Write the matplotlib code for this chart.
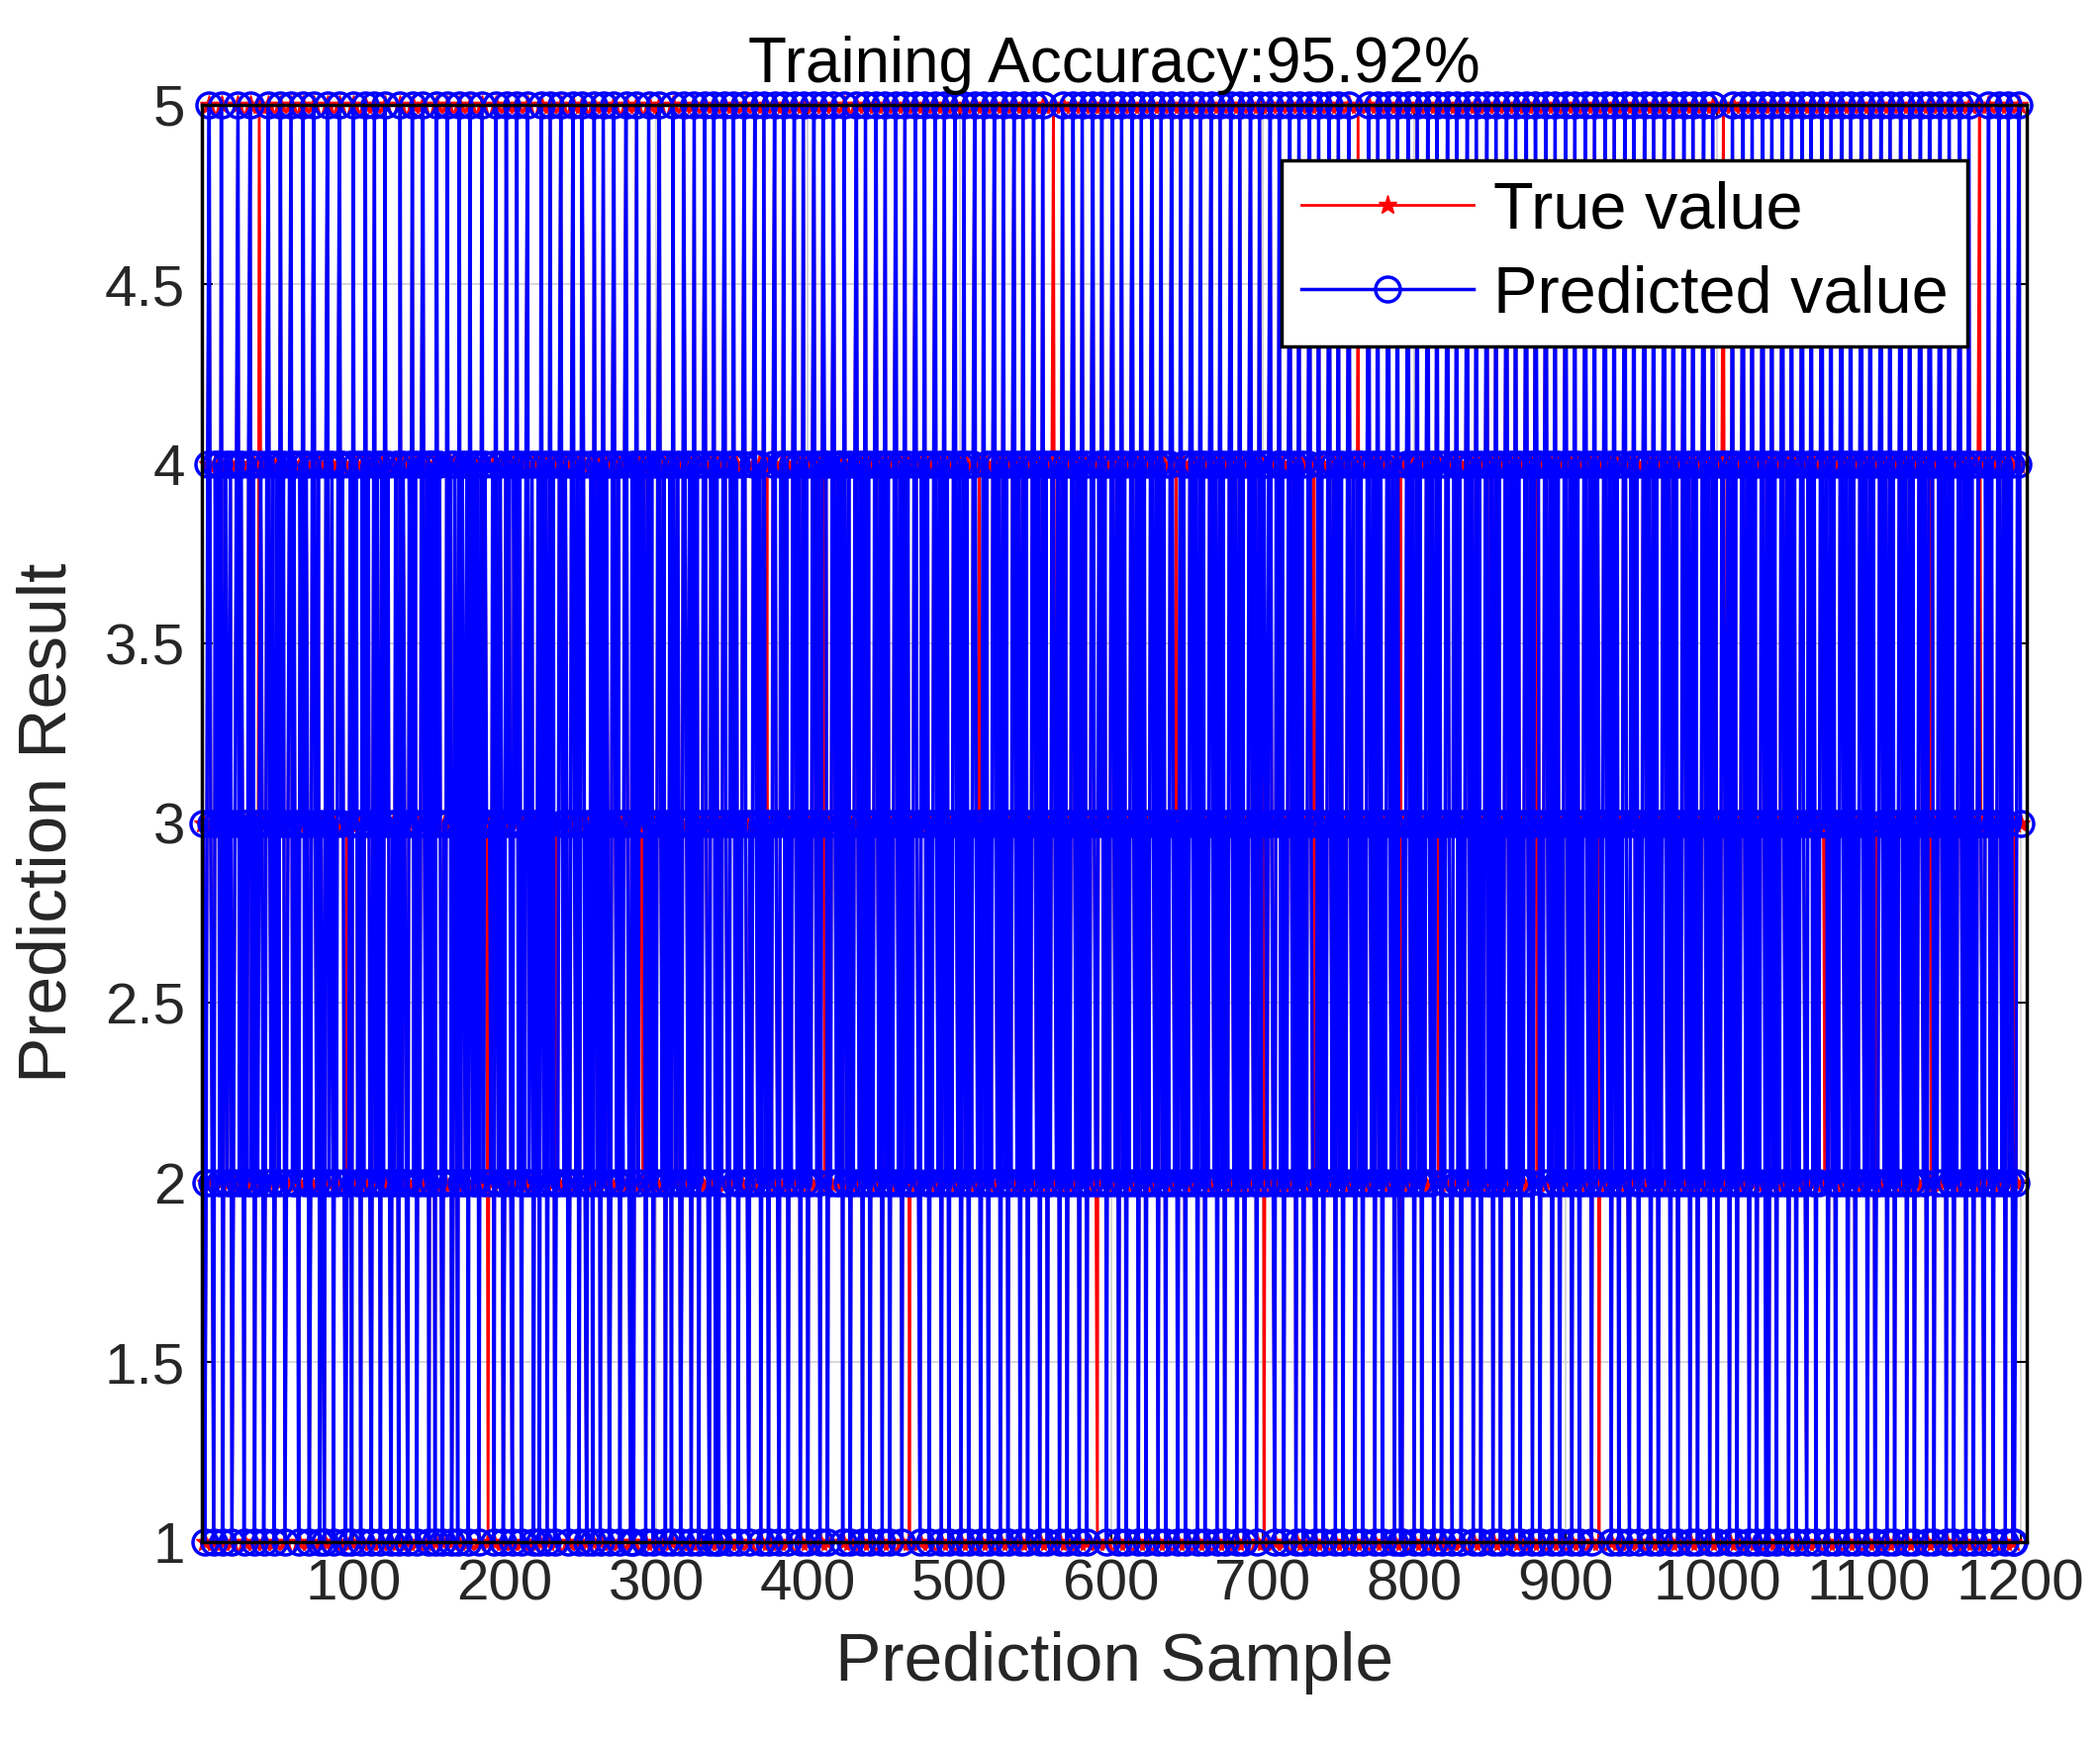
import numpy as np
import matplotlib
matplotlib.use("Agg")
import matplotlib.pyplot as plt

plt.rcParams['font.family'] = ['Liberation Sans', 'DejaVu Sans']

# True class labels per sample, one digit per sample
true_rows = [
    "312453214342513423412345243132452413254312453241342534123452",
    "423143524312453241321452341324534213241534231425342135243142",
    "534213243152432143524132453241324153421325341243152432415324",
    "241352431324153243125342143524132452341324153241352413245324",
    "312453241354213241532413524312453241324532141352432413524132",
    "453241324153243125432413524132453214352413245321435241324532",
    "132453241352413245321435241324532413524132453241352413245324",
    "241532413245324135241324532413524132453241352413245321435241",
    "324532413524132453241352413245324135241324532413524132453241",
    "352413245324135241324532413524132453241352413245321435241324",
    "532413524132453241352413245324135241324532413524132453241352",
    "413245324135241324532413524132453241352413245321435241324532",
    "413524132453241352413245324135241324532413524132453241352413",
    "245324135241324532413524132453241352413245321435241324532413",
    "524132453241352413245324135241324532413524132453241352413245",
    "324135241324532413524132453241352413245321435241324532413524",
    "132453241352413245324135241324532413524132453241352413245324",
    "135241324532413524132453241352413245321435241324532413524132",
    "453241352413245324135241324532413524132453241352413245324135",
    "241324532413524132453241352413245321435241324532413524132453",
]
true_values = [int(c) for c in "".join(true_rows)]

# Samples where the prediction differs from the true value (index -> predicted class)
wrong_idx = [37, 95, 150, 188, 233, 290, 338, 372, 410, 466, 512, 561, 590, 642,
             700, 733, 762, 790, 815, 848, 880, 921, 958, 1003, 1031, 1070, 1104,
             1140, 1172, 1195]
wrong_pred = [3, 2, 4, 3, 2, 4, 1, 3, 4, 2, 3, 4, 2, 3, 4, 2, 4, 1, 3, 2, 4, 3,
              2, 4, 1, 3, 2, 4, 3, 1]

pred_values = list(true_values)
for i, p in zip(wrong_idx, wrong_pred):
    pred_values[i] = p

x = np.arange(1, len(true_values) + 1)

fig = plt.figure(figsize=(21.22, 17.6), dpi=100)
ax = fig.add_axes([0.096, 0.115, 0.869, 0.825])

ax.plot(x, true_values, color='red', marker='*', markersize=14, linewidth=2,
        label='True value', clip_on=False)
ax.plot(x, pred_values, color='blue', marker='o', markersize=18, markerfacecolor='none',
        markeredgewidth=2.5, linewidth=2.5, label='Predicted value', clip_on=False)

ax.set_xlim(0, 1204)
ax.set_ylim(1, 5)
ax.set_xticks([100, 200, 300, 400, 500, 600, 700, 800, 900, 1000, 1100, 1200])
ax.set_yticks([1, 1.5, 2, 2.5, 3, 3.5, 4, 4.5, 5])
ax.set_yticklabels(['1', '1.5', '2', '2.5', '3', '3.5', '4', '4.5', '5'])
ax.grid(True, color='#d0d0d0', linewidth=1.2)
ax.tick_params(labelsize=42, direction='in', length=8, width=1.5, top=True, right=True,
               pad=12, labelcolor='#262626')
for s in ax.spines.values():
    s.set_linewidth(2.5)
    s.set_color('black')

ax.set_xlabel('Prediction Sample', fontsize=50, color='#262626', labelpad=14)
ax.set_ylabel('Prediction Result', fontsize=50, color='#262626', labelpad=18)
ax.set_title('Training Accuracy:95.92%', fontsize=46, pad=16)

leg = ax.legend(loc='upper right', fontsize=48, frameon=True, fancybox=False,
                edgecolor='black', framealpha=1, handlelength=2.6, borderpad=0.3,
                labelspacing=0.35, handletextpad=0.3, borderaxespad=0.2,
                bbox_to_anchor=(0.975, 0.97))
leg.get_frame().set_linewidth(2.5)

fig.savefig('out.png', dpi=100)
